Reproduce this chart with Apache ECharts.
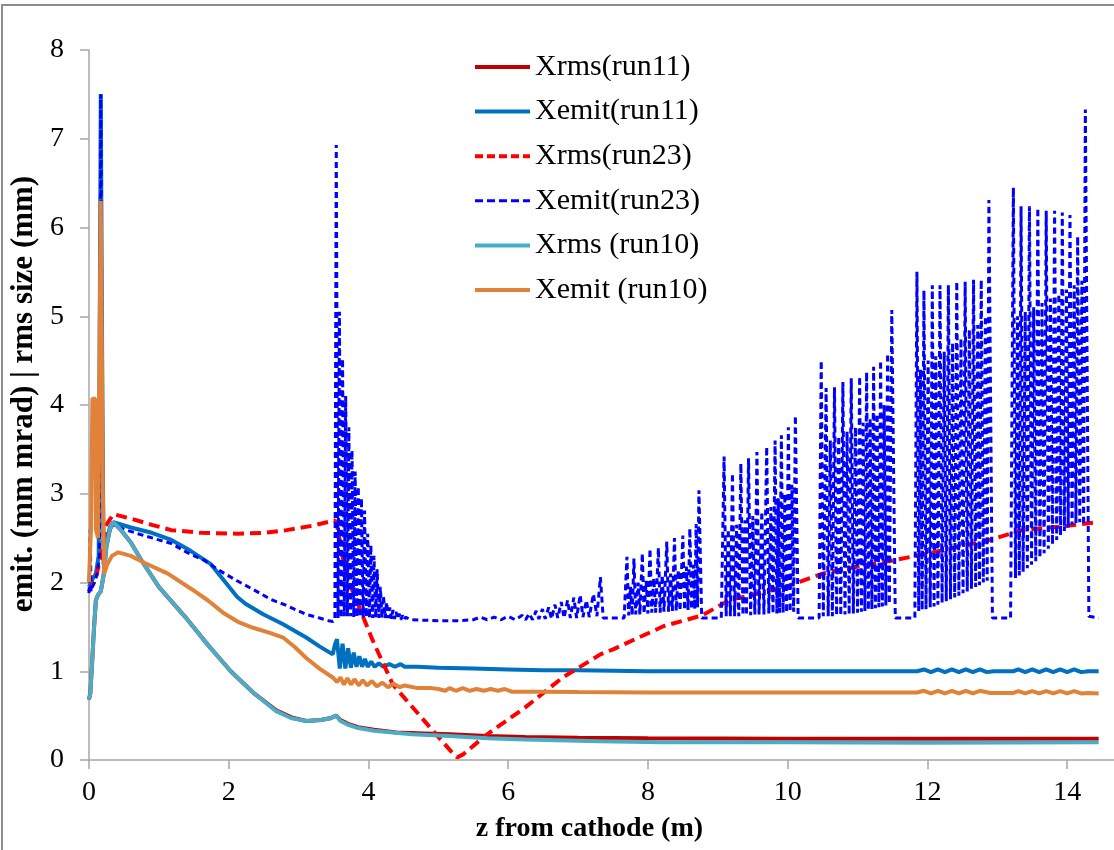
<!DOCTYPE html>
<html>
<head>
<meta charset="utf-8">
<script src="https://cdn.jsdelivr.net/npm/echarts@6/dist/echarts.min.js"></script>
<style>
html,body{margin:0;padding:0;background:#fff;}
#chart{width:1114px;height:850px;}
</style>
</head>
<body>
<div id="chart"></div>
<script>
// ---- data (z in m, value in mm / mm mrad) ----
const seriesNames = ['Xrms(run11)', 'Xemit(run11)', 'Xrms(run23)', 'Xemit(run23)', 'Xrms (run10)', 'Xemit (run10)'];
const xTickValues = [0, 2, 4, 6, 8, 10, 12, 14];

const xrms11 = [[0.0,0.68],[0.02,0.75],[0.05,1.15],[0.07,1.45],[0.1,1.8],[0.13,1.86],[0.17,1.9],[0.21,2.08],[0.25,2.4],[0.3,2.6],[0.35,2.68],[0.45,2.6],[0.6,2.45],[0.76,2.24],[1.0,1.95],[1.38,1.61],[1.7,1.3],[2.03,1.0],[2.35,0.76],[2.68,0.56],[2.9,0.48],[3.11,0.44],[3.32,0.45],[3.45,0.47],[3.54,0.5],[3.6,0.45],[3.7,0.41],[3.85,0.37],[4.08,0.34],[4.4,0.31],[4.8,0.3],[5.16,0.29],[5.7,0.27],[6.24,0.26],[7.0,0.25],[8.0,0.245],[10.0,0.24],[12.0,0.24],[14.45,0.24]];

const xemit11 = [[0.0,1.95],[0.03,2.0],[0.06,2.05],[0.1,2.1],[0.14,2.3],[0.17,7.5],[0.19,4.5],[0.21,2.2],[0.25,2.45],[0.3,2.62],[0.35,2.68],[0.6,2.62],[0.9,2.56],[1.18,2.48],[1.45,2.36],[1.74,2.21],[2.12,1.84],[2.24,1.76],[2.5,1.64],[2.78,1.53],[3.11,1.38],[3.3,1.28],[3.49,1.19],[3.52,1.3],[3.55,1.36],[3.59,1.03],[3.63,1.31],[3.67,1.03],[3.71,1.26],[3.75,1.04],[3.79,1.21],[3.83,1.05],[3.87,1.17],[3.91,1.05],[3.95,1.14],[3.99,1.05],[4.04,1.11],[4.09,1.05],[4.15,1.09],[4.21,1.05],[4.3,1.08],[4.38,1.05],[4.46,1.08],[4.52,1.05],[4.7,1.05],[5.0,1.04],[5.5,1.03],[6.0,1.02],[6.5,1.01],[7.0,1.01],[8.0,1.0],[9.0,1.0],[10.0,1.0],[11.0,1.0],[11.85,1.0],[11.95,1.02],[12.05,0.99],[12.15,1.02],[12.25,0.99],[12.35,1.02],[12.45,0.99],[12.55,1.02],[12.65,0.99],[12.75,1.02],[12.85,0.99],[12.95,1.0],[13.23,1.0],[13.3,1.02],[13.4,0.99],[13.5,1.02],[13.6,0.99],[13.7,1.02],[13.8,0.99],[13.9,1.02],[14.0,0.99],[14.1,1.02],[14.2,0.99],[14.3,1.0],[14.45,1.0]];

const xrms23 = [[0.0,1.9],[0.1,2.05],[0.2,2.4],[0.25,2.65],[0.35,2.77],[0.6,2.72],[0.9,2.65],[1.18,2.59],[1.6,2.56],[2.12,2.55],[2.5,2.56],[2.83,2.59],[3.2,2.64],[3.52,2.7],[3.55,2.65],[3.63,2.29],[3.77,1.91],[4.06,1.35],[4.35,0.85],[4.89,0.36],[5.18,0.1],[5.27,0.03],[5.35,0.06],[5.7,0.29],[6.24,0.59],[6.78,0.93],[7.32,1.19],[7.51,1.25],[8.23,1.51],[8.78,1.63],[9.16,1.8],[9.97,1.95],[10.5,2.1],[11.0,2.18],[11.52,2.25],[12.2,2.36],[12.89,2.48],[13.36,2.59],[13.9,2.63],[14.45,2.68]];

const xemit23 = [[0.0,1.88],[0.01,2.0],[0.02,2.6],[0.03,1.9],[0.05,1.95],[0.08,2.0],[0.12,2.1],[0.15,2.3],[0.17,7.5],[0.19,4.0],[0.21,2.1],[0.25,2.45],[0.3,2.6],[0.35,2.65],[0.5,2.6],[0.7,2.55],[1.0,2.48],[1.18,2.44],[1.4,2.34],[1.65,2.25],[1.9,2.12],[2.12,2.02],[2.4,1.9],[2.6,1.81],[2.8,1.75],[3.11,1.64],[3.3,1.6],[3.43,1.57],[3.49,1.56],[3.52,1.58],
[3.54,6.93],[3.565,1.6],[3.585,5.05],[3.61,1.6],[3.63,4.52],[3.655,1.62],[3.675,4.1],[3.7,1.62],[3.72,3.75],[3.745,1.62],[3.765,3.49],[3.79,1.61],[3.81,3.25],[3.835,1.61],[3.855,3.08],[3.88,1.61],[3.9,2.95],[3.925,1.61],[3.945,2.81],[3.97,1.61],[3.99,2.55],[4.015,1.6],[4.035,2.42],[4.06,1.6],[4.08,2.3],[4.105,1.6],[4.125,2.15],[4.15,1.6],[4.17,1.95],[4.195,1.6],[4.215,1.85],[4.24,1.6],[4.26,1.78],[4.285,1.6],[4.305,1.72],[4.33,1.59],[4.35,1.69],[4.375,1.59],[4.395,1.67],[4.42,1.59],[4.44,1.65],[4.465,1.58],[4.485,1.63],[4.51,1.58],[4.53,1.61],
[4.6,1.58],[5.0,1.57],[5.3,1.57],[5.5,1.58],[5.6,1.61],[5.7,1.58],[5.8,1.61],[5.9,1.58],[6.0,1.62],[6.1,1.58],[6.2,1.63],[6.25,1.58],[6.3,1.65],[6.35,1.58],[6.4,1.68],[6.44,1.59],[6.49,1.7],[6.53,1.59],[6.58,1.72],[6.62,1.59],[6.67,1.75],[6.71,1.6],[6.76,1.78],[6.8,1.6],[6.85,1.8],[6.89,1.6],[6.94,1.83],[6.98,1.6],[7.03,1.86],[7.07,1.61],[7.12,1.8],[7.16,1.61],[7.22,1.87],[7.27,1.62],[7.32,2.06],[7.36,1.6],
[7.66,1.6],[7.7,2.29],[7.725,1.63],[7.75,1.95],[7.775,1.63],[7.8,2.27],[7.825,1.64],[7.86,2.0],[7.885,1.64],[7.92,2.33],[7.945,1.65],[7.975,2.02],[8.0,1.65],[8.03,2.38],[8.055,1.66],[8.085,2.05],[8.11,1.66],[8.15,2.39],[8.175,1.66],[8.205,2.08],[8.23,1.67],[8.27,2.46],[8.295,1.67],[8.325,2.1],[8.35,1.68],[8.38,2.5],[8.405,1.68],[8.435,2.14],[8.46,1.68],[8.5,2.53],[8.525,1.69],[8.55,2.18],[8.575,1.69],[8.6,2.61],[8.625,1.7],[8.65,2.2],[8.67,1.7],[8.69,2.66],[8.71,1.72],[8.73,3.04],[8.77,1.6],
[9.05,1.6],[9.09,3.42],[9.12,1.62],[9.15,2.6],[9.18,1.62],[9.21,3.23],[9.24,1.62],[9.27,2.65],[9.3,1.62],[9.33,3.34],[9.36,1.63],[9.39,2.7],[9.41,1.63],[9.44,3.4],[9.47,1.63],[9.5,2.75],[9.53,1.64],[9.56,3.47],[9.59,1.64],[9.63,2.8],[9.66,1.64],[9.7,3.53],[9.73,1.65],[9.76,2.85],[9.79,1.65],[9.82,3.6],[9.845,1.65],[9.865,2.95],[9.885,1.66],[9.91,3.66],[9.935,1.66],[9.96,3.0],[9.985,1.66],[10.01,3.75],[10.035,1.67],[10.06,3.1],[10.085,1.67],[10.11,3.88],[10.15,1.6],
[10.45,1.6],[10.48,4.5],[10.51,1.62],[10.55,4.19],[10.58,1.62],[10.61,3.6],[10.64,1.62],[10.67,4.2],[10.7,1.63],[10.73,3.65],[10.76,1.63],[10.79,4.26],[10.82,1.64],[10.85,3.7],[10.88,1.64],[10.91,4.3],[10.94,1.65],[10.97,3.75],[11.0,1.66],[11.03,4.32],[11.055,1.67],[11.08,3.8],[11.105,1.68],[11.13,4.37],[11.155,1.69],[11.18,3.85],[11.205,1.7],[11.23,4.43],[11.255,1.71],[11.28,3.9],[11.305,1.72],[11.33,4.5],[11.355,1.73],[11.38,4.0],[11.405,1.74],[11.43,4.58],[11.455,1.76],[11.49,5.07],[11.54,1.6],
[11.82,1.6],[11.85,5.5],[11.875,1.68],[11.9,4.4],[11.925,1.69],[11.95,5.29],[11.98,1.7],[12.01,4.5],[12.04,1.72],[12.07,5.35],[12.095,1.73],[12.12,4.55],[12.15,1.75],[12.18,5.35],[12.21,1.77],[12.24,4.6],[12.27,1.79],[12.3,5.35],[12.33,1.81],[12.36,4.7],[12.39,1.83],[12.42,5.39],[12.45,1.85],[12.48,4.75],[12.51,1.88],[12.54,5.39],[12.57,1.9],[12.6,4.85],[12.63,1.93],[12.66,5.41],[12.69,1.95],[12.72,4.9],[12.745,1.97],[12.77,5.41],[12.8,2.0],[12.83,5.0],[12.855,2.02],[12.88,6.31],[12.93,1.6],
[13.19,1.6],[13.23,6.45],[13.26,2.05],[13.29,5.0],[13.315,2.08],[13.34,6.24],[13.37,2.12],[13.4,5.05],[13.43,2.16],[13.46,6.24],[13.49,2.2],[13.52,5.1],[13.55,2.24],[13.58,6.22],[13.61,2.28],[13.64,5.15],[13.67,2.33],[13.7,6.19],[13.73,2.38],[13.76,5.2],[13.79,2.43],[13.82,6.19],[13.85,2.48],[13.88,5.25],[13.905,2.53],[13.93,6.17],[13.96,2.58],[13.99,5.3],[14.015,2.62],[14.04,6.14],[14.07,2.65],[14.1,5.35],[14.125,2.67],[14.15,5.9],[14.18,2.68],[14.21,5.4],[14.235,2.65],[14.26,7.33],[14.31,1.62],[14.45,1.6]];

const xrms10 = [[0.0,0.68],[0.02,0.75],[0.05,1.15],[0.07,1.45],[0.1,1.8],[0.13,1.86],[0.17,1.9],[0.21,2.08],[0.25,2.4],[0.3,2.6],[0.35,2.68],[0.45,2.6],[0.6,2.45],[0.76,2.24],[1.0,1.95],[1.38,1.61],[1.7,1.3],[2.03,1.0],[2.35,0.76],[2.68,0.55],[2.9,0.47],[3.11,0.44],[3.32,0.45],[3.45,0.47],[3.54,0.5],[3.6,0.44],[3.7,0.4],[3.85,0.36],[4.08,0.33],[4.62,0.29],[5.16,0.27],[5.7,0.245],[6.24,0.23],[7.3,0.21],[8.2,0.2],[10.0,0.2],[12.0,0.195],[14.45,0.2]];

const xemit10 = [[0.0,2.0],[0.03,2.6],[0.05,4.07],[0.09,4.07],[0.1,2.6],[0.13,2.5],[0.17,6.3],[0.2,3.0],[0.22,2.1],[0.26,2.2],[0.33,2.3],[0.42,2.34],[0.6,2.3],[0.8,2.22],[1.13,2.1],[1.46,1.93],[1.7,1.8],[1.92,1.66],[2.15,1.55],[2.35,1.49],[2.6,1.43],[2.78,1.38],[2.95,1.27],[3.11,1.15],[3.3,1.03],[3.49,0.93],[3.55,0.88],[3.6,0.93],[3.65,0.85],[3.7,0.92],[3.75,0.85],[3.8,0.91],[3.86,0.84],[3.92,0.9],[3.98,0.84],[4.05,0.89],[4.12,0.83],[4.2,0.87],[4.28,0.82],[4.36,0.86],[4.45,0.82],[4.52,0.84],[4.7,0.81],[4.9,0.81],[5.0,0.8],[5.1,0.78],[5.16,0.81],[5.25,0.78],[5.35,0.81],[5.45,0.78],[5.55,0.8],[5.65,0.78],[5.75,0.8],[5.85,0.78],[5.95,0.8],[6.05,0.77],[6.5,0.77],[7.0,0.765],[8.0,0.76],[9.0,0.76],[10.0,0.76],[11.0,0.76],[11.85,0.76],[11.95,0.78],[12.05,0.75],[12.15,0.78],[12.25,0.75],[12.35,0.78],[12.45,0.75],[12.55,0.78],[12.65,0.75],[12.75,0.78],[12.9,0.755],[13.23,0.755],[13.3,0.775],[13.4,0.75],[13.5,0.775],[13.6,0.75],[13.7,0.775],[13.8,0.75],[13.9,0.775],[14.0,0.75],[14.1,0.775],[14.2,0.75],[14.3,0.755],[14.45,0.75]];

// ---- chart ----
const FONT = '"Liberation Serif", "Times New Roman", serif';
const chart = echarts.init(document.getElementById('chart'), null, {renderer: 'canvas'});

const seriesStyles = [
  {color: '#C00000', width: 4, type: 'solid'},
  {color: '#0070C0', width: 4, type: 'solid'},
  {color: '#FF0000', width: 4, type: [11, 6]},
  {color: '#0000FF', width: 3, type: [6, 4]},
  {color: '#4BACC6', width: 4, type: 'solid'},
  {color: '#E0823A', width: 4, type: 'solid'}
];
const seriesData = [xrms11, xemit11, xrms23, xemit23, xrms10, xemit10];

const option = {
  backgroundColor: '#ffffff',
  animation: false,
  textStyle: {fontFamily: FONT},
  graphic: [{
    type: 'rect', silent: true, z: 100,
    shape: {x: 2, y: 5, width: 1300, height: 1000},
    style: {fill: 'none', stroke: '#8c8c8c', lineWidth: 2}
  }],
  grid: {left: 78, right: 0, top: 50, bottom: 90, containLabel: false},
  legend: {
    orient: 'vertical', left: 473, top: 52, padding: 0,
    itemWidth: 55, itemHeight: 14, itemGap: 14.6,
    itemStyle: {opacity: 0, borderWidth: 0},
    textStyle: {fontFamily: FONT, fontSize: 30, color: '#000', lineHeight: 30},
    data: seriesNames.map((n, i) => ({
      name: n,
      lineStyle: {width: seriesStyles[i].width, type: seriesStyles[i].type === 'solid' ? 'solid' : [8, 4], color: seriesStyles[i].color}
    }))
  },
  xAxis: {
    type: 'value', min: 0, max: 14.67,
    name: 'z from cathode (m)', nameLocation: 'middle', nameGap: 55,
    nameTextStyle: {fontFamily: FONT, fontSize: 28, fontWeight: 'bold', color: '#000', padding: [0, 24, 0, 0]},
    axisLine: {show: true, onZero: false, lineStyle: {color: '#a6a6a6', width: 1.5}},
    axisTick: {show: true, inside: false, length: 9, customValues: xTickValues, lineStyle: {color: '#a6a6a6', width: 1.5}},
    axisLabel: {fontFamily: FONT, fontSize: 28, color: '#000', margin: 19, customValues: xTickValues},
    splitLine: {show: false}
  },
  yAxis: {
    type: 'value', min: 0, max: 8, interval: 1,
    name: 'emit. (mm mrad) | rms size (mm)', nameLocation: 'middle', nameGap: 36,
    nameTextStyle: {fontFamily: FONT, fontSize: 31, fontWeight: 'bold', color: '#000', padding: [0, 0, 0, 22]},
    axisLine: {show: true, lineStyle: {color: '#a6a6a6', width: 1.5}},
    axisTick: {show: true, inside: false, length: 9, lineStyle: {color: '#a6a6a6', width: 1.5}},
    axisLabel: {fontFamily: FONT, fontSize: 28, color: '#000', margin: 25},
    splitLine: {show: false}
  },
  series: seriesNames.map((n, i) => ({
    name: n, type: 'line', data: seriesData[i], showSymbol: false, symbol: 'none',
    animation: false, silent: true,
    lineStyle: {color: seriesStyles[i].color, width: seriesStyles[i].width, type: seriesStyles[i].type, cap: 'butt'},
    itemStyle: {color: seriesStyles[i].color}
  }))
};
chart.setOption(option);
</script>
</body>
</html>
